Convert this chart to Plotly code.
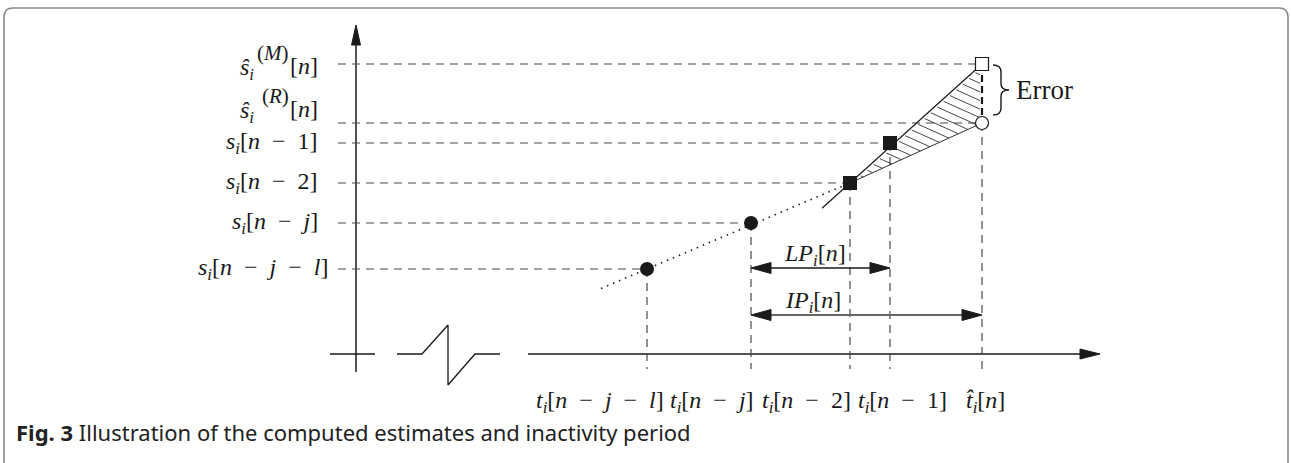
import numpy as np
import plotly.graph_objects as go

# ---------------- data ----------------
# diagram units: x = time measured from the value axis, y = value measured from the time axis
sample_times = [291, 395, 494, 534]      # t_i[n-j-l], t_i[n-j], t_i[n-2], t_i[n-1]
sample_values = [85, 131, 171, 211]      # s_i[n-j-l], s_i[n-j], s_i[n-2], s_i[n-1]
estimate_time = 626                      # t^_i[n]
estimate_M = 290                         # s^_i^(M)[n]
estimate_R = 231                         # s^_i^(R)[n]

SP = "\u2002"
value_labels = [
    f"<i>s</i><sub><i>i</i></sub>[<i>n</i>{SP}−{SP}<i>j</i>{SP}−{SP}<i>l</i>]",
    f"<i>s</i><sub><i>i</i></sub>[<i>n</i>{SP}−{SP}<i>j</i>]",
    f"<i>s</i><sub><i>i</i></sub>[<i>n</i>{SP}−{SP}2]",
    f"<i>s</i><sub><i>i</i></sub>[<i>n</i>{SP}−{SP}1]",
]
estimate_base = "<i>ŝ</i><sub><i>i</i></sub>"
estimate_sups = ["(<i>M</i>)", "(<i>R</i>)"]
estimate_arg = "[<i>n</i>]"
time_labels = [
    f"<i>t</i><sub><i>i</i></sub>[<i>n</i>{SP}−{SP}<i>j</i>{SP}−{SP}<i>l</i>]",
    f"<i>t</i><sub><i>i</i></sub>[<i>n</i>{SP}−{SP}<i>j</i>]",
    f"<i>t</i><sub><i>i</i></sub>[<i>n</i>{SP}−{SP}2]",
    f"<i>t</i><sub><i>i</i></sub>[<i>n</i>{SP}−{SP}1]",
    "<i>t̂</i><sub><i>i</i></sub>[<i>n</i>]",
]
interval_labels = ["<i>LP</i><sub><i>i</i></sub>[<i>n</i>]", "<i>IP</i><sub><i>i</i></sub>[<i>n</i>]"]
error_label = "Error"
caption_bold = "Fig. 3"
caption_text = "Illustration of the computed estimates and inactivity period"

# ---------------- layout geometry (pixels) ----------------
W, H = 1291, 463
AX_X, AX_Y = 356, 354            # pixel position of the origin
MATH_FONT = "Liberation Serif"
INK = "#1a1a1a"
DASH_CLR = "#4a4a4a"
DASH = "8px,6px"

fig = go.Figure()
shapes = []
annotations = []


def seg(x0, y0, x1, y1, color=INK, width=1.3, dash="solid"):
    shapes.append(dict(type="line", xref="x", yref="y", x0=x0, y0=y0, x1=x1, y1=y1,
                       line=dict(color=color, width=width, dash=dash), layer="below"))


def head(tx, ty, dx, dy, length=20, half=5, color=INK):
    bx, by = tx - dx * length, ty - dy * length
    px, py = -dy * half, dx * half
    path = f"M {tx},{ty} L {bx+px},{by+py} L {bx-px},{by-py} Z"
    shapes.append(dict(type="path", xref="x", yref="y", path=path,
                       fillcolor=color, line=dict(color=color, width=1), layer="above"))


def text(x, y, s, size=24, xanchor="center", yanchor="middle", font=MATH_FONT, color=INK, xref="x"):
    annotations.append(dict(x=x, y=y, xref=xref, yref="y", text=s, showarrow=False,
                            xanchor=xanchor, yanchor=yanchor,
                            font=dict(family=font, size=size, color=color)))


# ---------------- axes ----------------
seg(0, -18, 0, 309, width=1.5)
head(0, 329, 0, 1, length=20, half=4.5)
seg(-26, 0, 19, 0, width=1.3)
zig = [(41, 0), (66, 0), (92, 29), (92, -31), (119, 0), (144, 0)]
fig.add_trace(go.Scatter(x=[p[0] for p in zig], y=[p[1] for p in zig], mode="lines",
                         line=dict(color=INK, width=1.3), hoverinfo="skip", showlegend=False))
seg(172, 0, 726, 0, width=1.3)
head(744, 0, 1, 0, length=20, half=5)

# ---------------- dashed guide lines ----------------
guide_start = -18
all_t = sample_times + [estimate_time, estimate_time]
all_v = sample_values + [estimate_R, estimate_M]
for t, v in zip(all_t, all_v):
    seg(guide_start, v, t - 6, v, color=DASH_CLR, width=1.2, dash=DASH)
for t, v in zip(sample_times, sample_values):
    seg(t, v, t, -15, color=DASH_CLR, width=1.2, dash=DASH)
seg(estimate_time, estimate_R, estimate_time, -15, color=DASH_CLR, width=1.2, dash=DASH)
seg(estimate_time, estimate_M, estimate_time, estimate_R, color=INK, width=2.2, dash="7px,4px")

# ---------------- trend lines ----------------
t_a, v_a = sample_times[0], sample_values[0]
t_b, v_b = sample_times[2], sample_values[2]
slope_lr = (v_b - v_a) / (t_b - t_a)
x_start = t_a - 46
fig.add_trace(go.Scatter(x=[x_start, t_b], y=[v_a + slope_lr * (x_start - t_a), v_b], mode="lines",
                         line=dict(color=INK, width=1.6, dash="1.5px,5px"),
                         hoverinfo="skip", showlegend=False))
slope_M = (estimate_M - v_b) / (estimate_time - t_b)
slope_R = (estimate_R - v_b) / (estimate_time - t_b)
x_lin = t_b - 28
fig.add_trace(go.Scatter(x=[x_lin, estimate_time - 5], y=[v_b + slope_M * (x_lin - t_b), estimate_M - 5 * slope_M],
                         mode="lines", line=dict(color=INK, width=1.2), hoverinfo="skip", showlegend=False))
fig.add_trace(go.Scatter(x=[t_b, estimate_time - 6], y=[v_b, estimate_R - 6 * slope_R],
                         mode="lines", line=dict(color="#333", width=1.0), hoverinfo="skip", showlegend=False))

# hatching between the two extrapolations
hs = -0.45
hx, hy = [], []
c = estimate_M - 3
c_min = v_b + hs * (estimate_time - t_b)
while c > c_min + 2:
    xu = (c - hs * estimate_time - v_b + slope_M * t_b) / (slope_M - hs)
    if c >= estimate_R:
        xe = estimate_time - 2
    else:
        xe = (c - hs * estimate_time - v_b + slope_R * t_b) / (slope_R - hs)
    xs = xu + 2
    if xe > xs:
        hx += [xs, xe, None]
        hy += [c + hs * (xs - estimate_time), c + hs * (xe - estimate_time), None]
    c -= 8.6
fig.add_trace(go.Scatter(x=hx, y=hy, mode="lines", line=dict(color="#333", width=0.9),
                         hoverinfo="skip", showlegend=False))

# ---------------- markers ----------------
fig.add_trace(go.Scatter(x=sample_times[:2], y=sample_values[:2], mode="markers",
                         marker=dict(symbol="circle", size=14, color=INK), hoverinfo="skip", showlegend=False))
fig.add_trace(go.Scatter(x=sample_times[2:], y=sample_values[2:], mode="markers",
                         marker=dict(symbol="square", size=14, color=INK), hoverinfo="skip", showlegend=False))
fig.add_trace(go.Scatter(x=[estimate_time], y=[estimate_M], mode="markers",
                         marker=dict(symbol="square", size=13, color="white", line=dict(color=INK, width=1.2)),
                         hoverinfo="skip", showlegend=False))
fig.add_trace(go.Scatter(x=[estimate_time], y=[estimate_R], mode="markers",
                         marker=dict(symbol="circle", size=13, color="white", line=dict(color=INK, width=1.2)),
                         hoverinfo="skip", showlegend=False))

# ---------------- interval arrows ----------------
lp_level, ip_level = 86, 39
t_from = sample_times[1]
seg(t_from + 10, lp_level, sample_times[3] - 10, lp_level, color=INK, width=1.5)
head(t_from, lp_level, -1, 0, length=20, half=5.5)
head(sample_times[3], lp_level, 1, 0, length=20, half=5.5)
seg(t_from + 10, ip_level, estimate_time - 10, ip_level, color="#666", width=2)
head(t_from, ip_level, -1, 0, length=20, half=5.5)
head(estimate_time, ip_level, 1, 0, length=20, half=5.5)
text(t_from + 64, lp_level + 13, interval_labels[0], size=24)
text(t_from + 62, ip_level + 13, interval_labels[1], size=24)

# ---------------- error brace ----------------
bx0, bx1, bx2 = estimate_time + 11, estimate_time + 19, estimate_time + 27
btop, bbot = estimate_M - 1, estimate_R + 8
bmid = (btop + bbot) / 2
brace = (f"M {bx0},{btop} Q {bx1},{btop} {bx1},{btop-7} L {bx1},{bmid+6} "
         f"Q {bx1},{bmid} {bx2},{bmid} Q {bx1},{bmid} {bx1},{bmid-6} "
         f"L {bx1},{bbot+7} Q {bx1},{bbot} {bx0},{bbot}")
shapes.append(dict(type="path", xref="x", yref="y", path=brace,
                   line=dict(color=INK, width=1.4), layer="above"))
text(bx2 + 5, bmid, error_label, size=27, xanchor="left")

# ---------------- value labels ----------------
label_right = -36
for v, s in zip(sample_values, value_labels):
    text(label_right + (10 if "<i>l</i>" in s else 0), v, s, size=24, xanchor="right")
# estimates: base with subscript, stacked superscript, argument
for lvl, sup in zip([estimate_M - 2, estimate_R + 14], estimate_sups):
    text(label_right, lvl, estimate_arg, size=24, xanchor="right")
    text(label_right - 29, lvl + 13, sup, size=21, xanchor="right")
    text(label_right - 64, lvl - 3, estimate_base, size=24, xanchor="right")

# ---------------- time labels ----------------
time_label_x = [244, 356, 450, 546, 629]
for x, s in zip(time_label_x, time_labels):
    text(x, -48, s, size=24)

# ---------------- caption & frame ----------------
annotations.append(dict(x=14 / W, y=AX_Y - 432, xref="paper", yref="y",
                        text=f"<b>{caption_bold}</b> {caption_text}", showarrow=False,
                        xanchor="left", yanchor="middle",
                        font=dict(family="Noto Sans", size=22, color="#222")))


def pxx(p):
    return p - AX_X


def pxy(p):
    return AX_Y - p


frame = (f"M {pxx(4)},{pxy(475)} L {pxx(4)},{pxy(17)} Q {pxx(4)},{pxy(8)} {pxx(13)},{pxy(8)} "
         f"L {pxx(1279)},{pxy(8)} Q {pxx(1288)},{pxy(8)} {pxx(1288)},{pxy(17)} L {pxx(1288)},{pxy(475)}")
shapes.append(dict(type="path", xref="x", yref="y", path=frame,
                   line=dict(color="#8a8a8a", width=1.6), layer="below"))

fig.update_layout(
    width=W, height=H, margin=dict(l=0, r=0, t=0, b=0),
    paper_bgcolor="white", plot_bgcolor="white",
    xaxis=dict(range=[-AX_X, W - AX_X], visible=False, fixedrange=True),
    yaxis=dict(range=[AX_Y - H, AX_Y], visible=False, fixedrange=True),
    shapes=shapes, annotations=annotations, showlegend=False,
)
fig.write_html("out.html")
